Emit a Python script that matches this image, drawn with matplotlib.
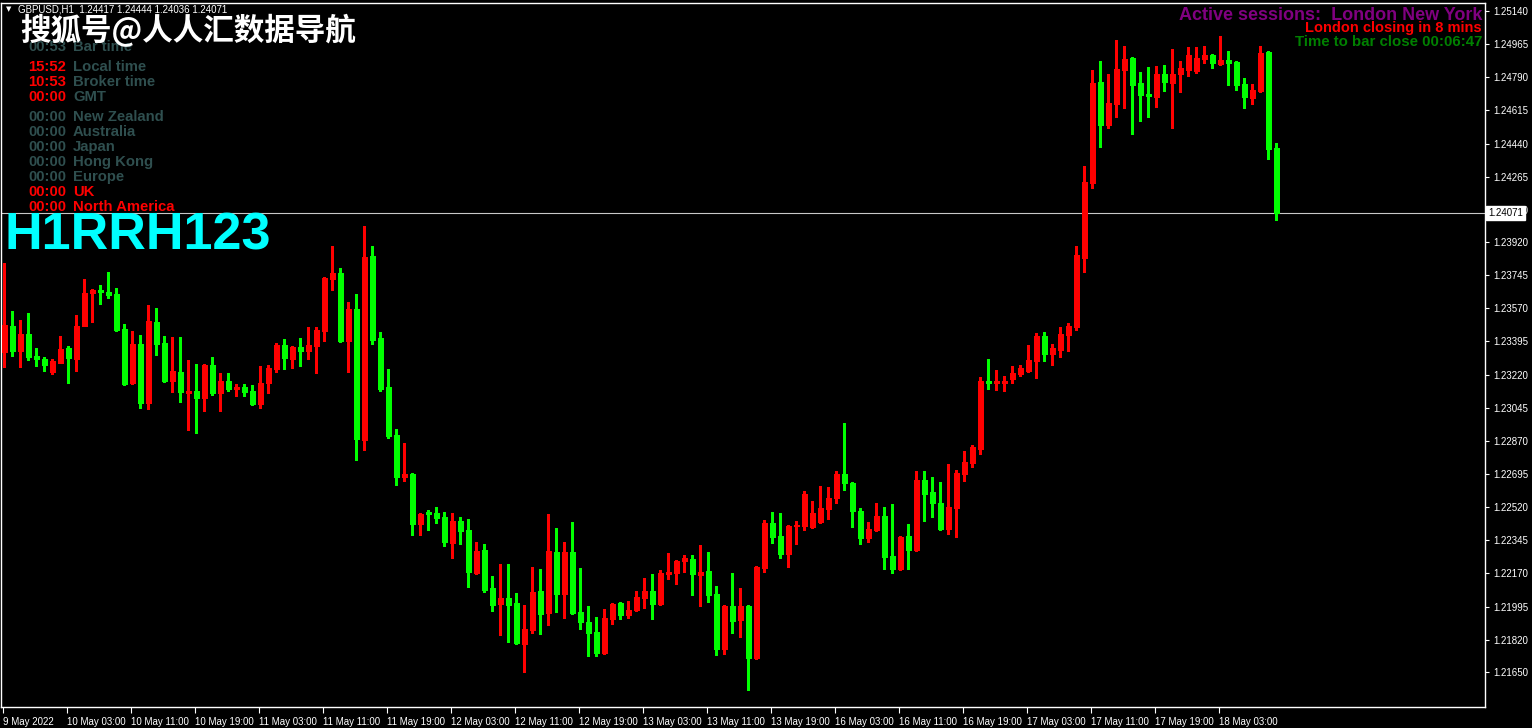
import matplotlib.pyplot as plt

plt.rcParams['font.family'] = ['Liberation Sans', 'Noto Sans CJK SC', 'DejaVu Sans']

# GBPUSD H1 bars, 9 May 19:00 .. 18 May 10:00 (weekend skipped)
opens = [
    1.23339, 1.23477, 1.23345, 1.23434, 1.23318, 1.23302, 1.23234, 1.23281, 1.23361, 1.23302,
    1.23477, 1.23651, 1.23667, 1.23656, 1.23646, 1.23461, 1.23176, 1.23382, 1.23070, 1.23498,
    1.23387, 1.23186, 1.23234, 1.23123, 1.23134, 1.23097, 1.23271, 1.23123, 1.23186, 1.23144,
    1.23155, 1.23134, 1.23065, 1.23176, 1.23250, 1.23376, 1.23302, 1.23366, 1.23345, 1.23371,
    1.23450, 1.23725, 1.23757, 1.23398, 1.23566, 1.22875, 1.23846, 1.23413, 1.23155, 1.22901,
    1.22679, 1.22695, 1.22431, 1.22495, 1.22489, 1.22468, 1.22331, 1.22447, 1.22400, 1.22173,
    1.22294, 1.22093, 1.22009, 1.22041, 1.22014, 1.21798, 1.21872, 1.22078, 1.21961, 1.22283,
    1.22062, 1.22283, 1.21967, 1.21914, 1.21861, 1.21750, 1.21930, 1.22014, 1.21951, 1.21977,
    1.22041, 1.22078, 1.22009, 1.22167, 1.22173, 1.22236, 1.22246, 1.22162, 1.22183, 1.22062,
    1.21771, 1.21998, 1.21925, 1.21998, 1.21724, 1.22199, 1.22437, 1.22368, 1.22273, 1.22421,
    1.22421, 1.22416, 1.22442, 1.22510, 1.22569, 1.22695, 1.22648, 1.22500, 1.22357, 1.22400,
    1.22474, 1.22262, 1.22194, 1.22368, 1.22294, 1.22664, 1.22600, 1.22542, 1.22405, 1.22516,
    1.22695, 1.22753, 1.22827, 1.23186, 1.23176, 1.23176, 1.23197, 1.23223, 1.23239, 1.23292,
    1.23424, 1.23329, 1.23350, 1.23429, 1.23471, 1.23836, 1.24232, 1.24765, 1.24538, 1.24649,
    1.24828, 1.24892, 1.24760, 1.24701, 1.24685, 1.24807, 1.24760, 1.24807, 1.24828, 1.24823,
    1.24886, 1.24908, 1.24860, 1.24881, 1.24871, 1.24754, 1.24681, 1.24718, 1.24923, 1.24417,
]
highs = [
    1.23809, 1.23556, 1.23508, 1.23545, 1.23361, 1.23313, 1.23302, 1.23424, 1.23371, 1.23535,
    1.23725, 1.23672, 1.23693, 1.23762, 1.23677, 1.23487, 1.23450, 1.23429, 1.23588, 1.23572,
    1.23424, 1.23419, 1.23419, 1.23297, 1.23276, 1.23276, 1.23313, 1.23229, 1.23229, 1.23170,
    1.23170, 1.23165, 1.23266, 1.23271, 1.23387, 1.23408, 1.23371, 1.23413, 1.23471, 1.23471,
    1.23735, 1.23899, 1.23783, 1.23603, 1.23646, 1.24005, 1.23899, 1.23445, 1.23250, 1.22933,
    1.22859, 1.22701, 1.22489, 1.22505, 1.22521, 1.22495, 1.22489, 1.22468, 1.22458, 1.22336,
    1.22326, 1.22157, 1.22220, 1.22220, 1.22067, 1.22004, 1.22204, 1.22194, 1.22484, 1.22410,
    1.22336, 1.22442, 1.22199, 1.21998, 1.21940, 1.21982, 1.22014, 1.22020, 1.22025, 1.22078,
    1.22146, 1.22167, 1.22188, 1.22278, 1.22241, 1.22268, 1.22268, 1.22320, 1.22283, 1.22104,
    1.22004, 1.22173, 1.22093, 1.22004, 1.22210, 1.22452, 1.22495, 1.22489, 1.22426, 1.22447,
    1.22606, 1.22553, 1.22632, 1.22627, 1.22711, 1.22965, 1.22653, 1.22516, 1.22442, 1.22542,
    1.22521, 1.22537, 1.22368, 1.22431, 1.22711, 1.22711, 1.22679, 1.22653, 1.22748, 1.22716,
    1.22817, 1.22848, 1.23207, 1.23302, 1.23244, 1.23213, 1.23266, 1.23271, 1.23376, 1.23440,
    1.23445, 1.23382, 1.23471, 1.23493, 1.23899, 1.24322, 1.24828, 1.24876, 1.24807, 1.24987,
    1.24955, 1.24897, 1.24818, 1.24844, 1.24849, 1.24855, 1.24939, 1.24876, 1.24950, 1.24950,
    1.24955, 1.24913, 1.25008, 1.24929, 1.24876, 1.24786, 1.24754, 1.24955, 1.24929, 1.24444,
]
lows = [
    1.23260, 1.23318, 1.23260, 1.23297, 1.23266, 1.23239, 1.23223, 1.23281, 1.23176, 1.23239,
    1.23477, 1.23498, 1.23593, 1.23625, 1.23450, 1.23165, 1.23170, 1.23044, 1.23038, 1.23324,
    1.23181, 1.23128, 1.23075, 1.22928, 1.22912, 1.23028, 1.23112, 1.23028, 1.23134, 1.23107,
    1.23107, 1.23060, 1.23044, 1.23123, 1.23234, 1.23250, 1.23255, 1.23266, 1.23302, 1.23229,
    1.23398, 1.23667, 1.23392, 1.23234, 1.22769, 1.22822, 1.23382, 1.23134, 1.22885, 1.22637,
    1.22658, 1.22373, 1.22373, 1.22400, 1.22437, 1.22315, 1.22252, 1.22326, 1.22099, 1.22167,
    1.22072, 1.21972, 1.21845, 1.21808, 1.21798, 1.21650, 1.21856, 1.21851, 1.21898, 1.21967,
    1.21935, 1.21956, 1.21877, 1.21734, 1.21734, 1.21745, 1.21903, 1.21930, 1.21935, 1.21972,
    1.21988, 1.21930, 1.22004, 1.22141, 1.22114, 1.22178, 1.22056, 1.21998, 1.22019, 1.21740,
    1.21745, 1.21856, 1.21835, 1.21555, 1.21718, 1.22178, 1.22331, 1.22252, 1.22204, 1.22326,
    1.22400, 1.22410, 1.22437, 1.22458, 1.22542, 1.22611, 1.22416, 1.22326, 1.22336, 1.22394,
    1.22194, 1.22173, 1.22188, 1.22194, 1.22289, 1.22447, 1.22468, 1.22400, 1.22378, 1.22363,
    1.22658, 1.22732, 1.22801, 1.23144, 1.23139, 1.23134, 1.23176, 1.23213, 1.23234, 1.23202,
    1.23292, 1.23271, 1.23313, 1.23345, 1.23456, 1.23762, 1.24205, 1.24422, 1.24522, 1.24580,
    1.24628, 1.24490, 1.24559, 1.24580, 1.24633, 1.24718, 1.24522, 1.24712, 1.24797, 1.24813,
    1.24865, 1.24839, 1.24855, 1.24749, 1.24723, 1.24628, 1.24649, 1.24712, 1.24358, 1.24036,
]
closes = [
    1.23482, 1.23345, 1.23434, 1.23313, 1.23302, 1.23271, 1.23292, 1.23355, 1.23308, 1.23477,
    1.23651, 1.23667, 1.23656, 1.23640, 1.23456, 1.23170, 1.23382, 1.23070, 1.23503, 1.23382,
    1.23186, 1.23239, 1.23128, 1.23134, 1.23097, 1.23271, 1.23123, 1.23186, 1.23144, 1.23155,
    1.23128, 1.23065, 1.23176, 1.23255, 1.23376, 1.23308, 1.23366, 1.23345, 1.23376, 1.23456,
    1.23730, 1.23757, 1.23398, 1.23566, 1.22880, 1.23841, 1.23403, 1.23144, 1.22896, 1.22679,
    1.22695, 1.22431, 1.22484, 1.22484, 1.22463, 1.22336, 1.22447, 1.22394, 1.22178, 1.22289,
    1.22083, 1.22004, 1.22041, 1.22004, 1.21803, 1.21877, 1.22072, 1.21956, 1.22289, 1.22062,
    1.22283, 1.21961, 1.21914, 1.21856, 1.21750, 1.21935, 1.22009, 1.21951, 1.21977, 1.22046,
    1.22078, 1.22009, 1.22173, 1.22178, 1.22236, 1.22252, 1.22167, 1.22178, 1.22056, 1.21771,
    1.21998, 1.21919, 1.21998, 1.21724, 1.22204, 1.22437, 1.22363, 1.22273, 1.22421, 1.22426,
    1.22590, 1.22489, 1.22516, 1.22569, 1.22695, 1.22648, 1.22500, 1.22357, 1.22405, 1.22474,
    1.22257, 1.22194, 1.22363, 1.22294, 1.22664, 1.22590, 1.22542, 1.22405, 1.22521, 1.22701,
    1.22759, 1.22838, 1.23186, 1.23176, 1.23186, 1.23186, 1.23229, 1.23255, 1.23297, 1.23424,
    1.23329, 1.23361, 1.23434, 1.23477, 1.23852, 1.24237, 1.24760, 1.24538, 1.24654, 1.24834,
    1.24886, 1.24749, 1.24696, 1.24691, 1.24807, 1.24765, 1.24807, 1.24839, 1.24908, 1.24892,
    1.24908, 1.24865, 1.24881, 1.24865, 1.24749, 1.24685, 1.24723, 1.24918, 1.24411, 1.24071,
]
last_price = 1.24071

x_labels = ['9 May 2022', '10 May 03:00', '10 May 11:00', '10 May 19:00', '11 May 03:00',
            '11 May 11:00', '11 May 19:00', '12 May 03:00', '12 May 11:00', '12 May 19:00',
            '13 May 03:00', '13 May 11:00', '13 May 19:00', '16 May 03:00', '16 May 11:00',
            '16 May 19:00', '17 May 03:00', '17 May 11:00', '17 May 19:00', '18 May 03:00']
y_labels = ['1.25140', '1.24965', '1.24790', '1.24615', '1.24440', '1.24265', '1.24090',
            '1.23920', '1.23745', '1.23570', '1.23395', '1.23220', '1.23045', '1.22870',
            '1.22695', '1.22520', '1.22345', '1.22170', '1.21995', '1.21820', '1.21650']

# info panel (top left)
info_times = ['00:53', '15:52', '10:53', '00:00', '00:00', '00:00', '00:00', '00:00', '00:00', '00:00', '00:00']
info_names = ['Bar time', 'Local time', 'Broker time', 'GMT', 'New Zealand', 'Australia',
              'Japan', 'Hong Kong', 'Europe', 'UK', 'North America']
info_rows_y = [47, 67, 82, 97, 117, 132, 147, 162, 177, 192, 207]

RED = '#ff0000'
GREEN = '#00ff00'
GRAY = '#2f4f4f'
time_colors = [GRAY, RED, RED, RED, GRAY, GRAY, GRAY, GRAY, GRAY, RED, RED]
name_colors = [GRAY, GRAY, GRAY, GRAY, GRAY, GRAY, GRAY, GRAY, GRAY, RED, RED]

W, H = 1532, 728
fig = plt.figure(figsize=(W / 100, H / 100), dpi=100, facecolor='black')
ax = fig.add_axes([1 / W, 21 / H, 1484 / W, 704 / H])
ax.set_facecolor('black')


def px(x, y):
    return x / W, 1 - y / H


idx = list(range(len(opens)))
colors = [RED if c >= o else GREEN for o, c in zip(opens, closes)]
bottoms = [min(o, c) for o, c in zip(opens, closes)]
heights = [abs(c - o) for o, c in zip(opens, closes)]

ax.vlines(idx, lows, highs, colors=colors, linewidth=0.8, antialiased=False, zorder=2)
ax.bar(idx, heights, bottom=bottoms, width=0.6, color=colors, edgecolor=colors,
       linewidth=0.5, antialiased=False, zorder=3)

ax.axhline(last_price, color='#c8c8c8', linewidth=0.8, zorder=1)

ax.set_xlim(-0.41, 185.1)
ax.set_ylim(1.21465, 1.25182)

# axes and ticks
for s in ax.spines.values():
    s.set_color('white')
    s.set_linewidth(1)

ax.yaxis.tick_right()
ax.set_yticks([float(v) for v in y_labels])
ax.set_yticklabels(y_labels)
ax.set_xticks([8 * k - 0.15 for k in range(len(x_labels))])
ax.set_xticklabels(x_labels)
for lbl in ax.get_xticklabels():
    lbl.set_ha('left')
ax.tick_params(axis='y', colors='white', length=3, width=0.8, pad=3, labelsize=7)
ax.tick_params(axis='x', colors='white', length=4, width=0.8, pad=3, labelsize=7)

ax.text(1.002, last_price, '1.24071', transform=ax.get_yaxis_transform(), color='black',
        fontsize=7, ha='left', va='center', clip_on=False, zorder=10,
        bbox=dict(boxstyle='square,pad=0.2', fc='white', ec='white'))

# header texts
fig.text(*px(6, 9), '\u25bc', color='white', fontsize=5, va='center', family='DejaVu Sans')
fig.text(*px(18, 9), 'GBPUSD,H1  1.24417 1.24444 1.24036 1.24071', color='white',
         fontsize=7, va='center')

for t, n, tc, nc, y in zip(info_times, info_names, time_colors, name_colors, info_rows_y):
    fig.text(*px(28, y), t, color=tc, fontsize=10.7, fontweight='bold', va='center')
    fig.text(*px(73, y), n, color=nc, fontsize=10.7, fontweight='bold', va='center')

fig.text(*px(20, 31), '搜狐号@人人汇数据导航', color='white', fontsize=22,
         fontweight='bold', va='center', family=['Noto Sans CJK SC', 'DejaVu Sans'])

fig.text(*px(4, 236), 'H1RRH123', color='#00ffff', fontsize=37.5, fontweight='bold',
         va='center')

fig.text(*px(1482, 15), 'Active sessions:  London New York', color='#800080',
         fontsize=13, fontweight='bold', ha='right', va='center')
fig.text(*px(1482, 28), 'London closing in 8 mins', color=RED, fontsize=10.5,
         fontweight='bold', ha='right', va='center')
fig.text(*px(1482, 42), 'Time to bar close 00:06:47', color='#008000', fontsize=10.8,
         fontweight='bold', ha='right', va='center')

fig.savefig('out.png', dpi=100, facecolor='black')
